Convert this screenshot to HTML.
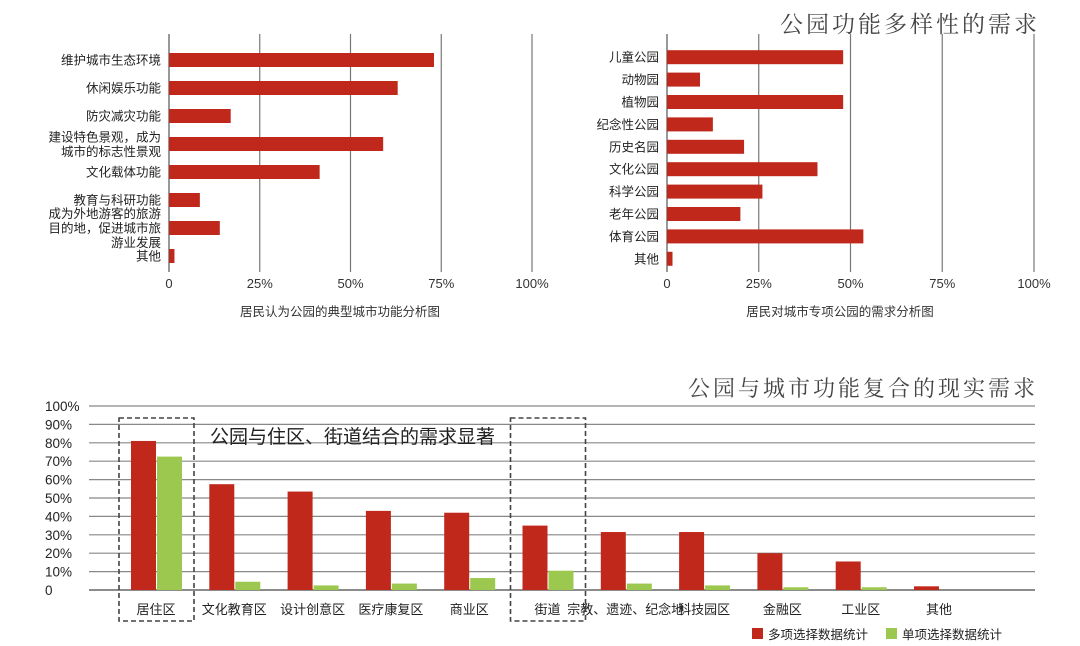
<!DOCTYPE html>
<html><head><meta charset="utf-8">
<style>
html,body{margin:0;padding:0;background:#fff;}
svg{display:block;font-family:"Liberation Sans","Noto Sans CJK SC",sans-serif;}
</style></head>
<body>
<svg id="svg" width="1080" height="646" viewBox="0 0 1080 646">
<text x="1040" y="32" text-anchor="end" font-size="23" letter-spacing="3" fill="#444" font-family="'Noto Serif CJK SC','Noto Sans CJK SC',serif">公园功能多样性的需求</text>
<text x="1038" y="396" text-anchor="end" font-size="22" letter-spacing="3" fill="#444" font-family="'Noto Serif CJK SC','Noto Sans CJK SC',serif">公园与城市功能复合的现实需求</text>
<g id="c1"></g>
<g id="c2"></g>
<g id="c3"></g>
</svg>
<script>
const NS="http://www.w3.org/2000/svg";
const RED="#c0281c", GREEN="#9dc84f";
const fnCategories=[["维护城市生态环境"],["休闲娱乐功能"],["防灾减灾功能"],["建设特色景观，成为","城市的标志性景观"],["文化载体功能"],["教育与科研功能"],["成为外地游客的旅游","目的地，促进城市旅","游业发展"],["其他"]];
const fnValues=[73,63,17,59,41.5,8.5,14,1.5];
const parkCategories=["儿童公园","动物园","植物园","纪念性公园","历史名园","文化公园","科学公园","老年公园","体育公园","其他"];
const parkValues=[48,9,48,12.5,21,41,26,20,53.5,1.5];
const xTickValues=[0,25,50,75,100];
const xTickLabels=["0","25%","50%","75%","100%"];
const zoneCategories=["居住区","文化教育区","设计创意区","医疗康复区","商业区","街道","宗教、遗迹、纪念地","科技园区","金融区","工业区","其他"];
const multiValues=[81,57.5,53.5,43,42,35,31.5,31.5,20,15.5,2];
const singleValues=[72.5,4.5,2.5,3.5,6.5,10.5,3.5,2.5,1.5,1.5,0];
const yTickValues=[0,10,20,30,40,50,60,70,80,90,100];
const yTickLabels=["0","10%","20%","30%","40%","50%","60%","70%","80%","90%","100%"];

function el(tag,attrs,parent,txt){const e=document.createElementNS(NS,tag);for(const k in attrs)e.setAttribute(k,attrs[k]);if(txt!==undefined)e.textContent=txt;parent.appendChild(e);return e;}

function hbar(gid,x0,x1,yTop,yBot,cats,vals,caption,capX,prefix){
  const g=document.getElementById(gid);
  const xs=v=>x0+(x1-x0)*v/100;
  const n=cats.length, step=(yBot-yTop)/n;
  const yc=i=>yTop+step*(i+0.5);
  xTickValues.forEach((t,i)=>{
    const l=el('line',{x1:xs(t),x2:xs(t),y1:yTop-12,y2:yBot+2,stroke:i===0?'#555':'#777','stroke-width':1.2},g);
    
    
    const tx=el('text',{x:xs(t),y:yBot+18,'text-anchor':'middle','font-size':13,fill:'#333'},g,xTickLabels[i]);
    
    
  });
  cats.forEach((c,i)=>{
    const lines=Array.isArray(c)?c:[c];
    const r=el('rect',{x:x0,y:yc(i)-7,width:xs(vals[i])-x0,height:14,fill:RED},g);
    
    
    const t=el('text',{x:x0-8,'text-anchor':'end','font-size':12.5,fill:'#222'},g);
    
    
    lines.forEach((s,j)=>{el('tspan',{x:x0-8,y:yc(i)+4.5+(j-(lines.length-1)/2)*14.5},t,s);});
  });
  const cap=el('text',{x:capX,y:yBot+46,'text-anchor':'middle','font-size':12.5,fill:'#333'},g,caption);
  
  
}
hbar('c1',169,532,46,270,fnCategories,fnValues,'居民认为公园的典型城市功能分析图',340,'function');
hbar('c2',667,1034,46,270,parkCategories,parkValues,'居民对城市专项公园的需求分析图',840,'park-type');

(function(){
  const g=document.getElementById('c3');
  const y0=590,y100=406,gx0=89,gx1=1035;
  const ys=v=>y0-(y0-y100)*v/100;
  yTickValues.forEach((t,i)=>{
    const l=el('line',{x1:gx0,x2:gx1,y1:ys(t),y2:ys(t),stroke:i===0?'#666':'#888','stroke-width':i===0?1.6:1.2},g);
    
    
    const tx=el('text',{x:45,y:ys(t)+5,'font-size':13.5,fill:'#222'},g,yTickLabels[i]);
    
    
  });
  const start=131, step=78.3, bw=25;
  const gx=i=>start+step*i;
  zoneCategories.forEach((c,i)=>{
    const r=el('rect',{x:gx(i),y:ys(multiValues[i]),width:bw,height:y0-ys(multiValues[i]),fill:RED},g);
    
    
    const r2=el('rect',{x:gx(i)+bw+1,y:ys(singleValues[i]),width:bw,height:y0-ys(singleValues[i]),fill:GREEN},g);
    
    
    const t=el('text',{x:gx(i)+bw,y:614,'text-anchor':'middle','font-size':13,fill:'#222'},g,c);
    
    
  });
  [0,5].forEach(i=>{
    const b=el('rect',{x:gx(i)-12,y:418,width:2*bw+1+24,height:203,fill:'none',stroke:'#444','stroke-width':1.6,'stroke-dasharray':'5,3'},g);
    
    
  });
  const ann=el('text',{x:210,y:443,'font-size':19,fill:'#222'},g,'公园与住区、街道结合的需求显著');
  
  
  const lg1=el('rect',{x:752,y:628,width:11,height:11,fill:RED},g);
  
  
  const lt1=el('text',{x:768,y:639,'font-size':12.5,fill:'#222'},g,'多项选择数据统计');
  
  
  const lg2=el('rect',{x:886,y:628,width:11,height:11,fill:GREEN},g);
  
  
  const lt2=el('text',{x:902,y:639,'font-size':12.5,fill:'#222'},g,'单项选择数据统计');
  
  
})();
</script>
</body></html>
